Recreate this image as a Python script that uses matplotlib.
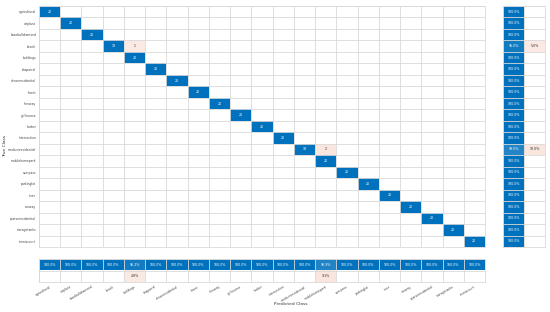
import matplotlib
matplotlib.use('Agg')
import matplotlib.pyplot as plt
import numpy as np

classes = ['agricultural', 'airplane', 'baseballdiamond', 'beach', 'buildings',
           'chaparral', 'denseresidential', 'forest', 'freeway', 'golfcourse',
           'harbor', 'intersection', 'mediumresidential', 'mobilehomepark',
           'overpass', 'parkinglot', 'river', 'runway', 'sparseresidential',
           'storagetanks', 'tenniscourt']
diag_counts = [20, 20, 20, 19, 20, 20, 20, 20, 20, 20, 20,
               20, 18, 20, 20, 20, 20, 20, 20, 20, 20]
# (true class, predicted class, count)
mistakes = [('beach', 'buildings', 1),
            ('mediumresidential', 'mobilehomepark', 2)]

BLUE = np.array([0.0, 0.447, 0.741])
ORANGE = np.array([0.85, 0.325, 0.098])
WHITE = np.array([1.0, 1.0, 1.0])
GRID = '#d9d9d9'
FS_CELL = 2.3
FS_TICK = 2.2


def blend(c, t):
    return WHITE + (c - WHITE) * t


n = len(classes)
cm = np.diag(np.array(diag_counts, dtype=float))
for t, p, c in mistakes:
    cm[classes.index(t), classes.index(p)] = c
cmax = cm.max()

row_ok = np.diag(cm) / cm.sum(axis=1)
col_ok = np.diag(cm) / cm.sum(axis=0)


def good_color(val):
    return blend(BLUE, 0.6 + 0.4 * val ** 4)


def bad_color(val):
    return blend(ORANGE, 0.1 + 0.4 * val)


def setup_grid(ax, nx, ny):
    ax.set_xlim(-0.5, nx - 0.5)
    ax.set_ylim(ny - 0.5, -0.5)
    ax.set_xticks(np.arange(-0.5, nx, 1), minor=True)
    ax.set_yticks(np.arange(-0.5, ny, 1), minor=True)
    ax.grid(which='minor', color=GRID, linewidth=0.6)
    ax.tick_params(which='both', length=0)
    for s in ax.spines.values():
        s.set_color(GRID)
        s.set_linewidth(0.6)


fig = plt.figure(figsize=(5.5, 3.12), dpi=100)

# main matrix
ax = fig.add_axes([39 / 550, 1 - 247 / 312, 446 / 550, 241 / 312])
img = np.ones((n, n, 3))
for i in range(n):
    for j in range(n):
        v = cm[i, j]
        if v > 0:
            if i == j:
                img[i, j] = blend(BLUE, 0.9 + 0.1 * v / cmax)
                txtc = 'white'
            else:
                img[i, j] = bad_color(v / cmax)
                txtc = '#333333'
            ax.text(j, i, '%d' % v, ha='center', va='center', fontsize=FS_CELL, color=txtc)
ax.imshow(img, aspect='auto', interpolation='nearest')
setup_grid(ax, n, n)
ax.set_xticks([])
ax.set_yticks(range(n))
ax.set_yticklabels(classes, fontsize=FS_TICK, color='#444444')
ax.tick_params(axis='y', pad=2)

# row summary
axr = fig.add_axes([503 / 550, 1 - 247 / 312, 42 / 550, 241 / 312])
rimg = np.ones((n, 2, 3))
for i in range(n):
    rimg[i, 0] = good_color(row_ok[i])
    axr.text(0, i, '%.1f%%' % (100 * row_ok[i]), ha='center', va='center',
             fontsize=FS_CELL, color='white')
    if row_ok[i] < 1:
        rimg[i, 1] = bad_color(1 - row_ok[i])
        axr.text(1, i, '%.1f%%' % (100 * (1 - row_ok[i])), ha='center', va='center',
                 fontsize=FS_CELL, color='#333333')
axr.imshow(rimg, aspect='auto', interpolation='nearest')
setup_grid(axr, 2, n)
axr.set_xticks([])
axr.set_yticks([])

# column summary
axc = fig.add_axes([39 / 550, 1 - 282 / 312, 446 / 550, 23 / 312])
cimg = np.ones((2, n, 3))
for j in range(n):
    cimg[0, j] = good_color(col_ok[j])
    axc.text(j, 0, '%.1f%%' % (100 * col_ok[j]), ha='center', va='center',
             fontsize=FS_CELL, color='white')
    if col_ok[j] < 1:
        cimg[1, j] = bad_color(1 - col_ok[j])
        axc.text(j, 1, '%.1f%%' % (100 * (1 - col_ok[j])), ha='center', va='center',
                 fontsize=FS_CELL, color='#333333')
axc.imshow(cimg, aspect='auto', interpolation='nearest')
setup_grid(axc, n, 2)
axc.set_yticks([])
axc.set_xticks(range(n))
axc.set_xticklabels(classes, fontsize=FS_TICK, color='#444444', rotation=30,
                    ha='right', rotation_mode='anchor')
axc.tick_params(axis='x', pad=2)

fig.text(291 / 550, 1 - 304 / 312, 'Predicted Class', ha='center', va='center',
         fontsize=3.2, color='#333333')
fig.text(5 / 550, 1 - 146 / 312, 'True Class', ha='center', va='center',
         rotation=90, fontsize=3.2, color='#333333')

fig.savefig('out.png', dpi=100)
